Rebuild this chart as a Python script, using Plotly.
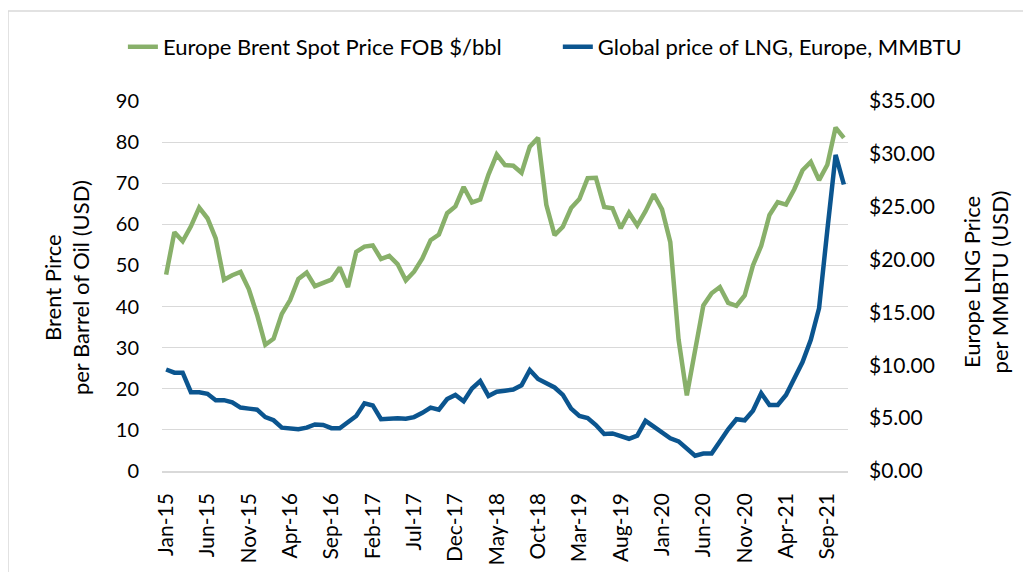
import pandas as pd
import plotly.graph_objects as go

months = [d.strftime("%b-%y") for d in pd.date_range("2015-01-01", "2021-11-01", freq="MS")]

brent = [47.76, 58.10, 55.89, 59.52, 64.08, 61.48, 56.56, 46.52, 47.62, 48.43, 44.27, 38.01,
         30.70, 32.18, 38.21, 41.58, 46.74, 48.25, 44.95, 45.84, 46.57, 49.52, 44.73, 53.31,
         54.58, 54.87, 51.59, 52.31, 50.33, 46.37, 48.48, 51.70, 56.15, 57.51, 62.71, 64.37,
         69.08, 65.32, 66.02, 72.11, 76.98, 74.41, 74.25, 72.53, 78.89, 81.03, 64.75, 57.36,
         59.41, 63.96, 66.14, 71.23, 71.32, 64.22, 63.92, 59.04, 62.83, 59.71, 63.21, 67.31,
         63.65, 55.66, 32.01, 18.38, 29.38, 40.27, 43.24, 44.74, 40.91, 40.19, 42.69, 49.99,
         54.77, 62.28, 65.41, 64.81, 68.53, 73.16, 75.17, 70.75, 74.49, 83.54, 81.05]

lng = [9.6, 9.3, 9.3, 7.45, 7.45, 7.3, 6.7, 6.7, 6.5, 6.0, 5.9, 5.8,
       5.1, 4.8, 4.1, 4.0, 3.95, 4.1, 4.4, 4.35, 4.05, 4.05, 4.6, 5.2,
       6.4, 6.2, 4.9, 5.0, 5.0, 4.95, 5.1, 5.5, 6.0, 5.8, 6.8, 7.2,
       6.6, 7.8, 8.5, 7.1, 7.5, 7.6, 7.7, 8.1, 9.55, 8.7, 8.3, 7.9,
       7.2, 5.9, 5.2, 5.0, 4.35, 3.5, 3.55, 3.25, 3.05, 3.35, 4.75, 4.2,
       3.6, 3.1, 2.8, 2.15, 1.45, 1.65, 1.65, 2.8, 3.95, 4.9, 4.8, 5.7,
       7.35, 6.25, 6.25, 7.2, 8.8, 10.3, 12.4, 15.4, 22.8, 29.9, 27.1]

tick_labels = months[::5]

FONT = "Lato"
GREEN = "#88B06A"
BLUE = "#0B558F"
GRID = "#D9D9D9"

fig = go.Figure()
fig.add_trace(go.Scatter(x=months, y=brent, name="Europe Brent Spot Price FOB $/bbl",
                         mode="lines", line=dict(color=GREEN, width=4.5), yaxis="y",
                         legend="legend"))
fig.add_trace(go.Scatter(x=months, y=lng, name="Global price of LNG, Europe, MMBTU",
                         mode="lines", line=dict(color=BLUE, width=4.5), yaxis="y2",
                         legend="legend2"))

legend_common = dict(orientation="h", xref="paper", yref="paper", xanchor="left",
                     y=1.146, yanchor="middle", font=dict(size=22), bgcolor="rgba(0,0,0,0)")

fig.update_layout(
    width=1031, height=572,
    margin=dict(l=154, r=191, t=93, b=109, autoexpand=False),
    paper_bgcolor="white", plot_bgcolor="white",
    font=dict(family=FONT, size=20, color="#000000"),
    showlegend=True,
    legend=dict(x=-0.057, **legend_common),
    legend2=dict(x=0.577, **legend_common),
    xaxis=dict(type="category", range=[-0.5, len(months) - 0.5],
               tickmode="array", tickvals=tick_labels, ticktext=tick_labels,
               tickangle=-90, showgrid=False, showline=True, linecolor=GRID, linewidth=1.5,
               ticks="", ticklabelstandoff=12, tickfont=dict(size=21)),
    yaxis=dict(range=[0, 90], dtick=10, showgrid=True, gridcolor=GRID, gridwidth=1.3,
               zeroline=False, showline=False, ticks="", ticklabelstandoff=22,
               tickfont=dict(size=20)),
    yaxis2=dict(range=[0, 35], dtick=5, overlaying="y", side="right", showgrid=False,
                zeroline=False, showline=False, tickprefix="$", tickformat=".2f",
                ticks="", ticklabelstandoff=20, tickfont=dict(size=21)),
    annotations=[
        dict(text="Brent Pirce<br>per Barrel of Oil (USD)", xref="paper", yref="paper",
             x=-0.1385, y=0.497, xanchor="center", yanchor="middle", textangle=-90,
             showarrow=False, font=dict(size=22)),
        dict(text="Europe LNG Price<br>per MMBTU (USD)", xref="paper", yref="paper",
             x=1.2004, y=0.511, xanchor="center", yanchor="middle", textangle=-90,
             showarrow=False, font=dict(size=22)),
    ],
    shapes=[dict(type="rect", xref="paper", yref="paper", x0=-0.2245, y0=-0.4,
                 x1=1.4, y1=1.243, line=dict(color=GRID, width=1.5), layer="below")],
)

fig.write_html("out.html")
